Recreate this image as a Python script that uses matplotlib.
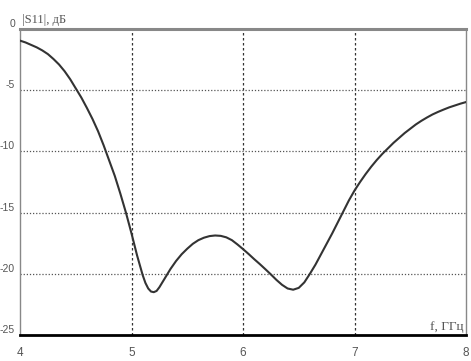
import matplotlib
matplotlib.use("Agg")
import matplotlib.pyplot as plt

freq = [4.00, 4.05, 4.10, 4.15, 4.20, 4.25, 4.30, 4.35, 4.40, 4.45, 4.50,
        4.55, 4.60, 4.65, 4.70, 4.75, 4.80, 4.85, 4.90, 4.95, 5.00, 5.05,
        5.10, 5.125, 5.15, 5.175, 5.20, 5.225, 5.25, 5.30, 5.35, 5.40, 5.45,
        5.50, 5.55, 5.60, 5.65, 5.70, 5.75, 5.80, 5.85, 5.90, 5.95, 6.00,
        6.05, 6.10, 6.15, 6.20, 6.25, 6.30, 6.35, 6.40, 6.45, 6.50, 6.55,
        6.60, 6.65, 6.70, 6.75, 6.80, 6.85, 6.90, 6.95, 7.00, 7.05, 7.10,
        7.15, 7.20, 7.25, 7.30, 7.35, 7.40, 7.45, 7.50, 7.55, 7.60, 7.65,
        7.70, 7.75, 7.80, 7.85, 7.90, 7.95, 8.00]
s11 = [-0.95, -1.1, -1.3, -1.5, -1.75, -2.05, -2.45, -2.9, -3.45, -4.1, -4.85,
       -5.6, -6.45, -7.35, -8.35, -9.5, -10.75, -12.0, -13.45, -15.0, -16.7,
       -18.5, -20.1, -20.75, -21.2, -21.45, -21.5, -21.4, -21.1, -20.35,
       -19.6, -18.95, -18.4, -17.95, -17.55, -17.25, -17.05, -16.92, -16.87,
       -16.9, -17.02, -17.25, -17.6, -17.98, -18.38, -18.8, -19.2, -19.62,
       -20.05, -20.5, -20.9, -21.2, -21.3, -21.15, -20.7, -20.0, -19.25,
       -18.4, -17.55, -16.7, -15.8, -14.9, -14.0, -13.2, -12.5, -11.85,
       -11.25, -10.7, -10.2, -9.75, -9.3, -8.9, -8.5, -8.15, -7.8, -7.5,
       -7.23, -6.98, -6.77, -6.58, -6.4, -6.25, -6.1, -5.97]

xticks = [4, 5, 6, 7, 8]
yticks = [0, -5, -10, -15, -20, -25]
ylabel = "|S11|, дБ"
xlabel = "f, ГГц"

fig = plt.figure(figsize=(4.71, 3.61), dpi=100)
ax = fig.add_axes([20/471, 26/361, 446/471, 306/361])
ax.set_xlim(4, 8)
ax.set_ylim(-25, 0)

for x in [5, 6, 7]:
    ax.axvline(x, color="#333333", lw=0.9, dashes=(2, 2), zorder=1)
for y in [-5, -10, -15, -20]:
    ax.axhline(y, color="#555555", lw=0.9, dashes=(1, 1.5), zorder=1)

ax.plot(freq, s11, color="#333333", lw=1.5, zorder=3)

ax.spines["top"].set_color("#888888")
ax.spines["top"].set_linewidth(2.2)
ax.spines["bottom"].set_color("#000000")
ax.spines["bottom"].set_linewidth(2.0)
ax.spines["left"].set_color("#888888")
ax.spines["left"].set_linewidth(1.0)
ax.spines["right"].set_color("#888888")
ax.spines["right"].set_linewidth(1.0)

ax.set_xticks(xticks)
ax.set_yticks(yticks)
ax.set_xticklabels([str(t) for t in xticks])
ax.set_yticklabels([str(t) for t in yticks])
ax.tick_params(axis="both", length=0, labelcolor="#555555")
ax.tick_params(axis="x", pad=9, labelsize=8.5)
ax.tick_params(axis="y", pad=3.6, labelsize=7.5)
for lab in ax.get_yticklabels():
    lab.set_fontfamily(["Liberation Sans", "DejaVu Sans"])
    lab.set_va("bottom")
for lab in ax.get_xticklabels():
    lab.set_fontfamily(["Liberation Sans", "DejaVu Sans"])

fig.text(22/471, 1 - 23/361, ylabel, fontsize=9, color="#555555",
         family=["Liberation Serif", "DejaVu Serif"], ha="left", va="baseline")
fig.text(463/471, 1 - 330/361, xlabel, fontsize=9.5, color="#555555",
         family=["Liberation Serif", "DejaVu Serif"], ha="right", va="baseline")

fig.savefig("out.png", dpi=100)
